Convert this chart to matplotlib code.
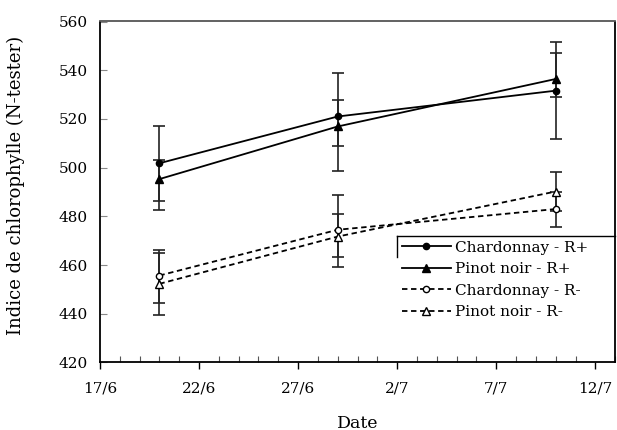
import pandas as pd
import matplotlib
matplotlib.use('Agg')
import matplotlib.pyplot as plt
import matplotlib.dates as mdates

plt.rcParams['font.family'] = ['DejaVu Serif']

# sampling dates and N-tester readings (means, lower / upper error)
dates = pd.to_datetime(['2003-06-20', '2003-06-29', '2003-07-10'])

chard_rp = [501.8, 521.0, 531.6]
chard_rp_lo = [15.3, 22.2, 19.9]
chard_rp_hi = [15.5, 17.8, 19.9]

pinot_rp = [495.3, 516.9, 536.4]
pinot_rp_lo = [12.6, 8.2, 7.3]
pinot_rp_hi = [7.9, 10.7, 10.5]

chard_rm = [455.7, 474.5, 483.0]
chard_rm_lo = [11.3, 15.1, 7.2]
chard_rm_hi = [10.5, 14.3, 7.2]

pinot_rm = [452.3, 471.7, 490.2]
pinot_rm_lo = [13.0, 8.5, 8.2]
pinot_rm_hi = [12.6, 9.2, 8.2]

xticks = pd.to_datetime(['2003-06-17', '2003-06-22', '2003-06-27',
                         '2003-07-02', '2003-07-07', '2003-07-12'])
yticks = [420, 440, 460, 480, 500, 520, 540, 560]

fig = plt.figure(figsize=(6.17, 4.30), dpi=100)
ax = fig.add_axes([0.162, 0.157, 0.835, 0.793])

series = [
    (chard_rp, chard_rp_lo, chard_rp_hi, 'Chardonnay - R+', 'o', 'black', '-', 4.5),
    (pinot_rp, pinot_rp_lo, pinot_rp_hi, 'Pinot noir - R+', '^', 'black', '-', 6),
    (chard_rm, chard_rm_lo, chard_rm_hi, 'Chardonnay - R-', 'o', 'white', '--', 4.5),
    (pinot_rm, pinot_rm_lo, pinot_rm_hi, 'Pinot noir - R-', '^', 'white', '--', 5.5),
]
for vals, lo, hi, lab, mk, fc, ls, ms in series:
    ax.errorbar(dates, vals, yerr=[lo, hi], fmt='none', ecolor='#222222',
                elinewidth=1.2, capsize=4, capthick=1.2, zorder=2)
    line, = ax.plot(dates, vals, color='black', ls=ls, lw=1.3, marker=mk,
                    ms=ms, mfc=fc, mec='black', mew=1, label=lab, zorder=3)
    if ls == '--':
        line.set_dashes((3, 2))

ax.set_xlim(pd.Timestamp('2003-06-17'), pd.Timestamp('2003-07-13'))
ax.set_ylim(420, 560)
ax.set_yticks(yticks)
ax.set_xticks(xticks)
ax.set_xticklabels(['%d/%d' % (d.day, d.month) for d in xticks])
ax.xaxis.set_minor_locator(mdates.DayLocator())

ax.tick_params(axis='x', which='major', direction='out', length=5, width=1,
               labelsize=11, pad=9)
ax.tick_params(axis='x', which='minor', direction='in', length=4, width=0.8,
               color='#555555')
ax.tick_params(axis='y', direction='in', length=5, width=0.8,
               color='#888888', labelsize=11, pad=9)

for side in ['left', 'bottom', 'right']:
    ax.spines[side].set_color('black')
    ax.spines[side].set_linewidth(1.3)
ax.spines['top'].set_color('#555555')
ax.spines['top'].set_linewidth(1.3)

ax.set_ylabel('Indice de chlorophylle (N-tester)', fontsize=13)
ax.yaxis.set_label_coords(-0.145, 0.52)
ax.set_xlabel('Date', fontsize=12.5, labelpad=14)

leg = ax.legend(loc='upper left', bbox_to_anchor=(0.577, 0.0, 0.423, 0.371),
                mode='expand', fontsize=11, handlelength=3.2,
                handletextpad=0.3, labelspacing=0.5, frameon=False,
                borderpad=0.3, borderaxespad=0)
# top edge and corner of the legend box
ax.plot([0.577, 1.0], [0.371, 0.371], color='black', lw=1,
        transform=ax.transAxes, clip_on=False)
ax.plot([0.577, 0.577], [0.371, 0.31], color='black', lw=1,
        transform=ax.transAxes, clip_on=False)

fig.savefig('out.png', dpi=100)
plt.close()
